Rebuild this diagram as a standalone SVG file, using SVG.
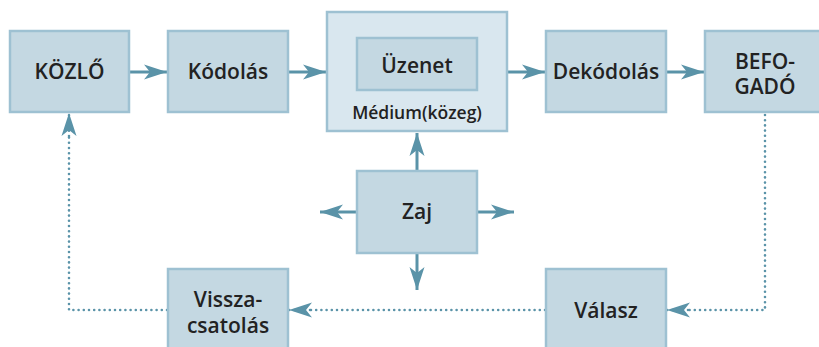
<svg xmlns="http://www.w3.org/2000/svg" width="819" height="347" viewBox="0 0 819 347">
<style>
.box{fill:#c4d8e2;stroke:#9ec1d2;stroke-width:2.5}
.outer{fill:#d9e7ef;stroke:#9ec1d2;stroke-width:2.5}
.t{font-family:"Open Sans","Noto Sans",sans-serif;font-weight:600;font-size:21px;fill:#222;text-anchor:middle}
.s{font-size:17.5px}
.ln{stroke:#5a93a8;stroke-width:3;fill:none}
.dot{stroke:#5a93a8;stroke-width:2.6;fill:none;stroke-dasharray:0 5.2;stroke-linecap:round}
</style>
<defs>
<marker id="ah" markerUnits="userSpaceOnUse" markerWidth="24" markerHeight="16" refX="23" refY="8" orient="auto" viewBox="0 0 24 16">
<path d="M0,0.5 L23,8 L0,15.5 L6,8 Z" fill="#5a93a8"/>
</marker>
</defs>
<g id="connectors">
<line class="ln" x1="130" y1="72" x2="167" y2="72" marker-end="url(#ah)"/>
<line class="ln" x1="289" y1="72" x2="326" y2="72" marker-end="url(#ah)"/>
<line class="ln" x1="508" y1="72" x2="545" y2="72" marker-end="url(#ah)"/>
<line class="ln" x1="667" y1="72" x2="704" y2="72" marker-end="url(#ah)"/>
<line class="ln" x1="417" y1="170" x2="417" y2="133" marker-end="url(#ah)"/>
<line class="ln" x1="417" y1="254" x2="417" y2="290" marker-end="url(#ah)"/>
<line class="ln" x1="356" y1="212" x2="320" y2="212" marker-end="url(#ah)"/>
<line class="ln" x1="478" y1="212" x2="514" y2="212" marker-end="url(#ah)"/>
<path class="dot" d="M765,115 V310 H686"/>
<path class="dot" d="M688,310 H667" stroke-dasharray="none" stroke-width="0" marker-end="url(#ah)"/>
<path class="dot" d="M545,310 H308"/>
<path class="dot" d="M310,310 H289" stroke-dasharray="none" stroke-width="0" marker-end="url(#ah)"/>
<path class="dot" d="M167,310 H69 V134"/>
<path class="dot" d="M69,136 V113" stroke-dasharray="none" stroke-width="0" marker-end="url(#ah)"/>
</g>
<g id="kozlo"><rect class="box" x="10" y="31" width="119" height="81"/><text class="t" x="69.5" y="79">KÖZLŐ</text></g>
<g id="kodolas"><rect class="box" x="168" y="31" width="120" height="81"/><text class="t" x="228" y="79">Kódolás</text></g>
<g id="medium"><rect class="outer" x="327" y="12" width="180" height="119"/><text class="t s" x="417" y="119">Médium(közeg)</text></g>
<g id="uzenet"><rect class="box" x="357" y="38" width="120" height="52"/><text class="t" x="417" y="73">Üzenet</text></g>
<g id="dekodolas"><rect class="box" x="546" y="31" width="120" height="81"/><text class="t" x="606" y="79">Dekódolás</text></g>
<g id="befogado"><rect class="box" x="705" y="31" width="121" height="81"/><text class="t" x="765" y="69">BEFO-</text><text class="t" x="765" y="94">GADÓ</text></g>
<g id="zaj"><rect class="box" x="357" y="171" width="120" height="82"/><text class="t" x="417" y="219">Zaj</text></g>
<g id="visszacsatolas"><rect class="box" x="168" y="269" width="120" height="85"/><text class="t" x="228" y="307">Vissza-</text><text class="t" x="228" y="333">csatolás</text></g>
<g id="valasz"><rect class="box" x="546" y="269" width="120" height="85"/><text class="t" x="606" y="318">Válasz</text></g>
</svg>
